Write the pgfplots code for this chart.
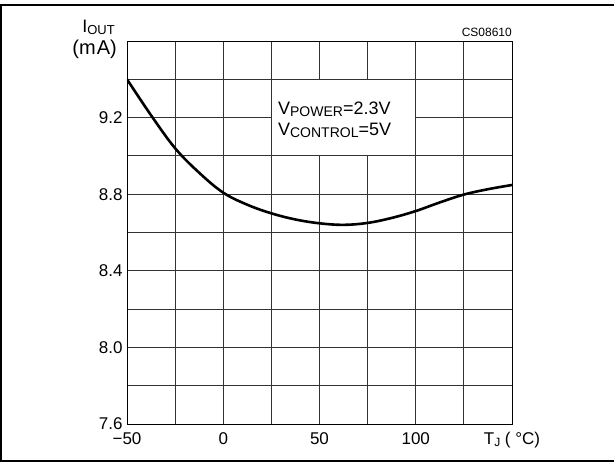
\documentclass[border=0pt]{standalone}
\usepackage{fontspec}
\setmainfont{Liberation Sans}
\usepackage{pgfplots}
\pgfplotsset{compat=1.18}
\begin{document}
\begin{tikzpicture}
\useasboundingbox (-127pt,-38pt) rectangle (487pt,424pt);
\draw[line width=2pt] (487pt,419pt) -- (-126pt,419pt) -- (-126pt,-37pt) -- (487pt,-37pt);
\begin{axis}[
  scale only axis, width=385pt, height=383pt,
  anchor=south west, at={(0pt,0pt)},
  xmin=-50, xmax=150, ymin=7.6, ymax=9.6,
  xtick={-50,0,50,100,150},
  xticklabels={−50,0,50,100,{T\raisebox{-2pt}{\fontsize{12}{12}\selectfont J} ( °C)}},
  minor xtick={-25,25,75,125},
  ytick={7.6,8.0,8.4,8.8,9.2},
  yticklabels={7.6,8.0,8.4,8.8,9.2},
  minor ytick={7.8,8.2,8.6,9.0,9.4},
  grid=both,
  major grid style={black!80, line width=0.8pt},
  minor grid style={black!80, line width=0.8pt},
  major tick length=0pt, minor tick length=0pt,
  axis line style={black, line width=0.9pt},
  ticklabel style={font=\fontsize{17}{19}\selectfont},
  xticklabel style={yshift=-5pt},
  yticklabel style={xshift=-1pt},
]
\fill[white] ([shift={(0.6pt,0.6pt)}]axis cs:25,9.0) rectangle ([shift={(-0.6pt,-0.6pt)}]axis cs:100,9.4);
\node[anchor=base west, font=\fontsize{18}{20}\selectfont, inner sep=0pt] at (axis cs:28.4,9.214) {V\raisebox{-2pt}{\fontsize{14}{14}\selectfont POWER}=2.3V};
\node[anchor=base west, font=\fontsize{18}{20}\selectfont, inner sep=0pt] at (axis cs:28.4,9.109) {V\raisebox{-2pt}{\fontsize{14}{14}\selectfont CONTROL}=5V};
\addplot[black, line width=2.6pt, smooth, tension=0.6] coordinates {
(-50,9.400) (-37.5,9.212) (-25,9.040) (-12.5,8.912) (0,8.808) (12.5,8.745) (25,8.700) (37.5,8.668) (50,8.648) (62.5,8.640) (75,8.650) (87.5,8.676) (100,8.712) (112.5,8.757) (125,8.798) (137.5,8.826) (150,8.848)
};
\end{axis}
\node[anchor=base east, inner sep=0pt, font=\fontsize{18}{20}\selectfont] at (-12pt,391pt) {I\raisebox{-2pt}{\fontsize{13}{13}\selectfont OUT}};
\node[anchor=base east, inner sep=0pt, font=\fontsize{20}{22}\selectfont] at (-10pt,369pt) {(m\kern1pt A)};
\node[anchor=base east, inner sep=0pt, font=\fontsize{12}{14}\selectfont] at (385pt,387pt) {CS08610};
\end{tikzpicture}
\end{document}
